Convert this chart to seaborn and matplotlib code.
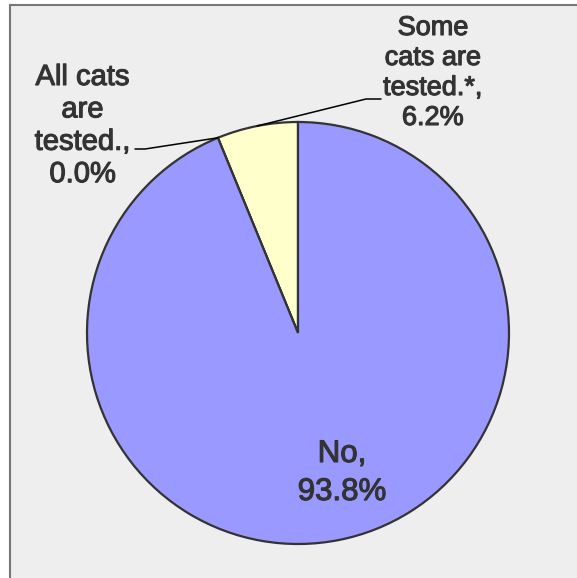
import numpy as np
import matplotlib
matplotlib.use("Agg")
import matplotlib.pyplot as plt
import matplotlib.patheffects as pe
from matplotlib.patches import Rectangle
import seaborn as sns

categories = ["Some cats are tested.*", "All cats are tested.", "No"]
values = [6.2, 0.0, 93.8]
label_texts = ["Some\ncats are\ntested.*,\n6.2%", "All cats\nare\ntested.,\n0.0%", "No,\n93.8%"]
colors = ["#ffffcc", "#9999ff", "#9999ff"]

sns.set_style("white")
plt.rcParams['font.family'] = ['Liberation Sans', 'DejaVu Sans']

W, H = 577, 578
fig = plt.figure(figsize=(W / 100, H / 100), dpi=100, facecolor="white")

ax = fig.add_axes([0, 0, 1, 1])
ax.set_facecolor("none")
ax.add_patch(Rectangle((10, -20), W + 40, H - 5 + 20, facecolor="#eeeeee",
                       edgecolor="#777777", linewidth=1.5, zorder=0))
cx, cy, r = 298, H - 333, 211
wedges, _ = ax.pie(values, colors=colors, startangle=90, counterclock=True,
                   center=(cx, cy), radius=r,
                   wedgeprops=dict(edgecolor="#333333", linewidth=1.6, zorder=2))
ax.set_xlim(0, W)
ax.set_ylim(0, H)
ax.set_aspect("equal")
ax.axis("off")

cum = np.cumsum([0] + values)
tot = sum(values)
def pt(frac):
    a = np.deg2rad(90 + 360 * frac / tot)
    return cx + r * np.cos(a), cy + r * np.sin(a)

tc = "#333333"
stroke = [pe.withStroke(linewidth=0.8, foreground=tc)]

# Some cats label
p = pt((cum[0] + cum[1]) / 2)
ax.plot([p[0], 366, 381], [p[1], H - 99, H - 99], color="black", lw=1.1, zorder=5)
ax.text(433, H - 15, label_texts[0], ha="center", va="top", fontsize=19.5, color=tc,
        linespacing=1.2, multialignment="center", path_effects=stroke)

# All cats label
p = pt((cum[1] + cum[2]) / 2)
ax.plot([p[0], 145, 135], [p[1], H - 149, H - 149], color="black", lw=1.1, zorder=5)
ax.text(82.5, H - 63, label_texts[1], ha="center", va="top", fontsize=21, color=tc,
        linespacing=1.2, multialignment="center", path_effects=stroke)

# No label
ax.text(342, H - 439, label_texts[2], ha="center", va="top", fontsize=22.5, color=tc,
        linespacing=1.35, multialignment="center", path_effects=stroke)

fig.savefig("out.png", dpi=100, facecolor="white")
